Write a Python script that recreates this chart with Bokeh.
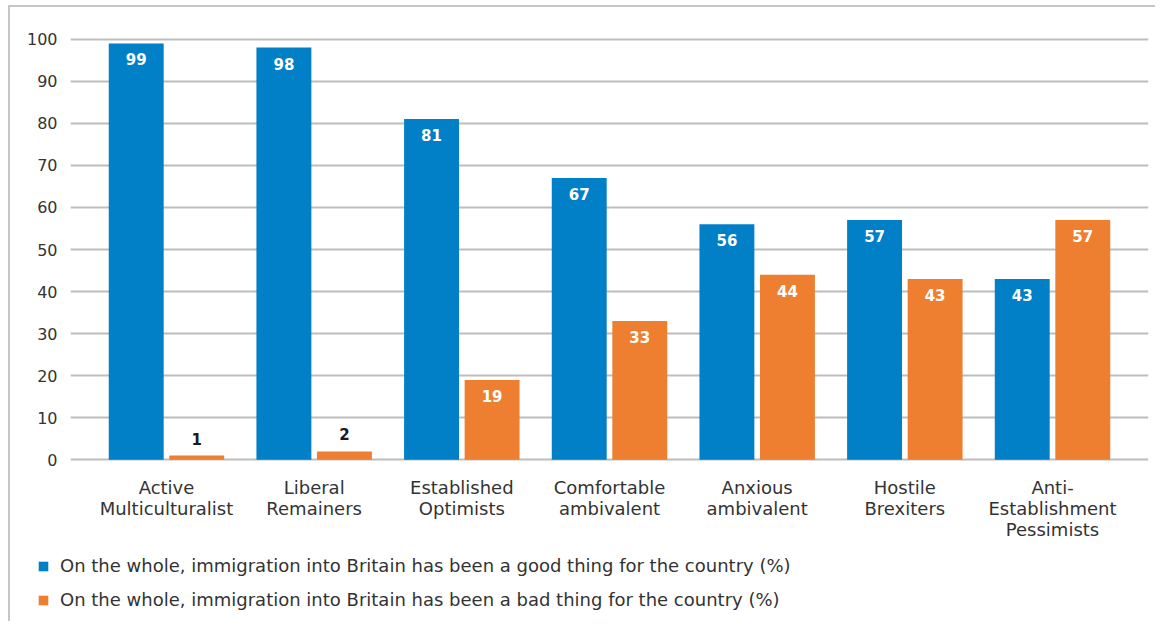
from bokeh.plotting import figure
from bokeh.layouts import column
from bokeh.models import ColumnDataSource, FactorRange, Range1d, Legend, LegendItem
from bokeh.transform import dodge
from bokeh.core.properties import value
from bokeh.embed import file_html
from bokeh.resources import INLINE

categories = ["Active\nMulticulturalist", "Liberal\nRemainers", "Established\nOptimists",
              "Comfortable\nambivalent", "Anxious\nambivalent", "Hostile\nBrexiters",
              "Anti-\nEstablishment\nPessimists"]
good = [99, 98, 81, 67, 56, 57, 43]
bad = [1, 2, 19, 33, 44, 43, 57]
series_labels = ["On the whole, immigration into Britain has been a good thing for the country (%)",
                 "On the whole, immigration into Britain has been a bad thing for the country (%)"]

BLUE = "#0180c7"
ORANGE = "#ee7f31"
FONT = "DejaVu Sans"

src = ColumnDataSource(dict(
    cat=categories, good=good, bad=bad,
    good_txt=[str(v) for v in good], bad_txt=[str(v) for v in bad],
))

p = figure(x_range=FactorRange(factors=categories, range_padding=0.15, range_padding_units="absolute"),
           y_range=Range1d(-0.4, 100.4),
           frame_width=1078, frame_height=424, output_backend="svg", toolbar_location=None,
           min_border_left=60, min_border_right=7, min_border_top=30, min_border_bottom=90)
p.outline_line_color = None
p.background_fill_color = "white"

r_good = p.vbar(x=dodge("cat", -0.205, range=p.x_range), top="good", width=0.372, source=src,
                fill_color=BLUE, line_color=None)
r_bad = p.vbar(x=dodge("cat", 0.205, range=p.x_range), top="bad", width=0.372, source=src,
               fill_color=ORANGE, line_color=None)

inside_bad = ColumnDataSource(dict(cat=[c for c, v in zip(categories, bad) if v >= 10],
                                   v=[v for v in bad if v >= 10],
                                   t=[str(v) for v in bad if v >= 10]))
outside_bad = ColumnDataSource(dict(cat=[c for c, v in zip(categories, bad) if v < 10],
                                    v=[v for v in bad if v < 10],
                                    t=[str(v) for v in bad if v < 10]))
p.text(x=dodge("cat", -0.205, range=p.x_range), y="good", text="good_txt", source=src,
       text_color="white", text_font=value(FONT), text_font_style="bold", text_font_size="15px",
       text_align="center", text_baseline="middle", y_offset=16)
p.text(x=dodge("cat", 0.205, range=p.x_range), y="v", text="t", source=inside_bad,
       text_color="white", text_font=value(FONT), text_font_style="bold", text_font_size="15px",
       text_align="center", text_baseline="middle", y_offset=16)
p.text(x=dodge("cat", 0.205, range=p.x_range), y="v", text="t", source=outside_bad,
       text_color="#1a1a1a", text_font=value(FONT), text_font_style="bold", text_font_size="15px",
       text_align="center", text_baseline="middle", y_offset=-17)

p.xgrid.grid_line_color = None
p.ygrid.grid_line_color = "#bdbdbd"
p.ygrid.grid_line_width = 2
p.yaxis.ticker = list(range(0, 101, 10))
p.yaxis.axis_line_color = None
p.yaxis.major_tick_line_color = None
p.yaxis.minor_tick_line_color = None
p.yaxis.major_label_text_font = FONT
p.yaxis.major_label_text_font_size = "16px"
p.yaxis.major_label_text_color = "#333333"
p.yaxis.major_label_standoff = 7

p.xaxis.axis_line_color = None
p.xaxis.major_tick_line_color = None
p.xaxis.major_label_text_font = FONT
p.xaxis.major_label_text_font_size = "18px"
p.xaxis.major_label_text_color = "#333333"
p.xaxis.major_label_standoff = 9
p.xaxis.major_label_text_align = "center"
p.xaxis.major_label_text_line_height = 1.0

# legend strip below the chart
lg = figure(frame_width=1145, frame_height=70, x_range=(0, 1), y_range=(0, 1),
            output_backend="svg", toolbar_location=None,
            min_border_left=0, min_border_right=0, min_border_top=0, min_border_bottom=0)
lg.axis.visible = False
lg.grid.grid_line_color = None
lg.outline_line_color = None
# swatch renderers placed outside the visible range; only their legend glyphs show
lg_good = lg.vbar(x=[5], top=[5.5], bottom=[5], width=0.1, fill_color=BLUE, line_color=None)
lg_bad = lg.vbar(x=[5], top=[5.5], bottom=[5], width=0.1, fill_color=ORANGE, line_color=None)
legend = Legend(items=[LegendItem(label=series_labels[0], renderers=[lg_good]),
                       LegendItem(label=series_labels[1], renderers=[lg_bad])],
                orientation="vertical", location=(27, 11),
                label_text_font=FONT, label_text_font_size="18px", label_text_color="#333333",
                glyph_width=12, glyph_height=12, spacing=13, padding=0, margin=0,
                label_standoff=11,
                border_line_color=None, background_fill_alpha=0)
lg.add_layout(legend, "center")

layout = column(p, lg, spacing=0)
layout.styles = {"margin-left": "8px", "margin-top": "5px",
                 "border-left": "2px solid #c6c6c6", "border-top": "2px solid #c6c6c6"}

open("out.html", "w").write(file_html(layout, INLINE))
